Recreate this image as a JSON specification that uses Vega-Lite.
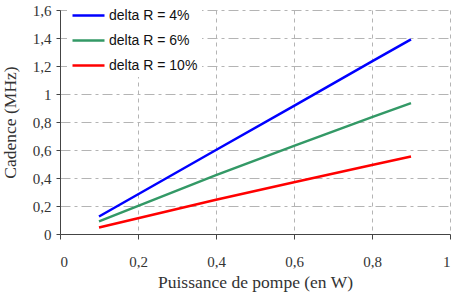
{
  "$schema": "https://vega.github.io/schema/vega-lite/v6.json",
  "width": 390,
  "height": 224,
  "autosize": {"type": "none"},
  "padding": {"left": 60, "top": 10, "right": 6, "bottom": 58},
  "background": "white",
  "config": {"view": {"stroke": null}},
  "data": {
    "values": [
      {"p": 0.1, "f": 0.125, "s": "delta R = 4%"},
      {"p": 0.4, "f": 0.6, "s": "delta R = 4%"},
      {"p": 0.6, "f": 0.915, "s": "delta R = 4%"},
      {"p": 0.8, "f": 1.233, "s": "delta R = 4%"},
      {"p": 0.9, "f": 1.39, "s": "delta R = 4%"},
      {"p": 0.1, "f": 0.09, "s": "delta R = 6%"},
      {"p": 0.4, "f": 0.42, "s": "delta R = 6%"},
      {"p": 0.6, "f": 0.63, "s": "delta R = 6%"},
      {"p": 0.8, "f": 0.835, "s": "delta R = 6%"},
      {"p": 0.9, "f": 0.935, "s": "delta R = 6%"},
      {"p": 0.1, "f": 0.047, "s": "delta R = 10%"},
      {"p": 0.4, "f": 0.245, "s": "delta R = 10%"},
      {"p": 0.6, "f": 0.369, "s": "delta R = 10%"},
      {"p": 0.8, "f": 0.493, "s": "delta R = 10%"},
      {"p": 0.9, "f": 0.554, "s": "delta R = 10%"}
    ]
  },
  "mark": {"type": "line", "strokeWidth": 2.5},
  "encoding": {
    "x": {
      "field": "p", "type": "quantitative",
      "scale": {"domain": [0, 1], "nice": false},
      "axis": {
        "grid": true,
        "values": [0, 0.2, 0.4, 0.6, 0.8, 1],
        "labelExpr": "replace(format(datum.value, '~g'), '.', ',')",
        "title": "Puissance de pompe (en W)",
        "titleFont": "Liberation Serif", "titleFontSize": 17.5, "titleFontWeight": "normal", "titleColor": "#333333",
        "titlePadding": 4,
        "labelFont": "Liberation Serif", "labelFontSize": 15, "labelColor": "#333333",
        "labelPadding": 15,
        "tickSize": 5, "tickColor": "#444444",
        "domainColor": "#444444",
        "gridColor": "#b4b4b4", "gridDash": [4, 4], "gridWidth": 1, "gridOpacity": 1
      }
    },
    "y": {
      "field": "f", "type": "quantitative",
      "scale": {"domain": [0, 1.6], "nice": false},
      "axis": {
        "grid": true,
        "values": [0, 0.2, 0.4, 0.6, 0.8, 1, 1.2, 1.4, 1.6],
        "labelExpr": "replace(format(datum.value, '~g'), '.', ',')",
        "title": "Cadence (MHz)",
        "titleFont": "Liberation Serif", "titleFontSize": 17.5, "titleFontWeight": "normal", "titleColor": "#333333",
        "titleX": -50,
        "titleBaseline": "middle",
        "labelFont": "Liberation Serif", "labelFontSize": 15, "labelColor": "#333333",
        "labelPadding": 5,
        "tickSize": 4, "tickColor": "#444444",
        "domainColor": "#444444",
        "gridColor": "#b4b4b4", "gridDash": [10, 4, 3, 4], "gridWidth": 1, "gridOpacity": 1
      }
    },
    "color": {
      "field": "s", "type": "nominal",
      "scale": {"domain": ["delta R = 4%", "delta R = 6%", "delta R = 10%"], "range": ["#0000ff", "#339966", "#ff0000"]},
      "legend": {
        "title": null,
        "orient": "none",
        "legendX": 7,
        "legendY": -16,
        "fillColor": "white",
        "padding": 4,
        "symbolType": "stroke",
        "symbolSize": 1024,
        "symbolStrokeWidth": 2.5,
        "labelFont": "Liberation Sans",
        "labelFontSize": 14,
        "labelColor": "#111111",
        "labelOffset": 3,
        "rowPadding": -9
      }
    }
  }
}
